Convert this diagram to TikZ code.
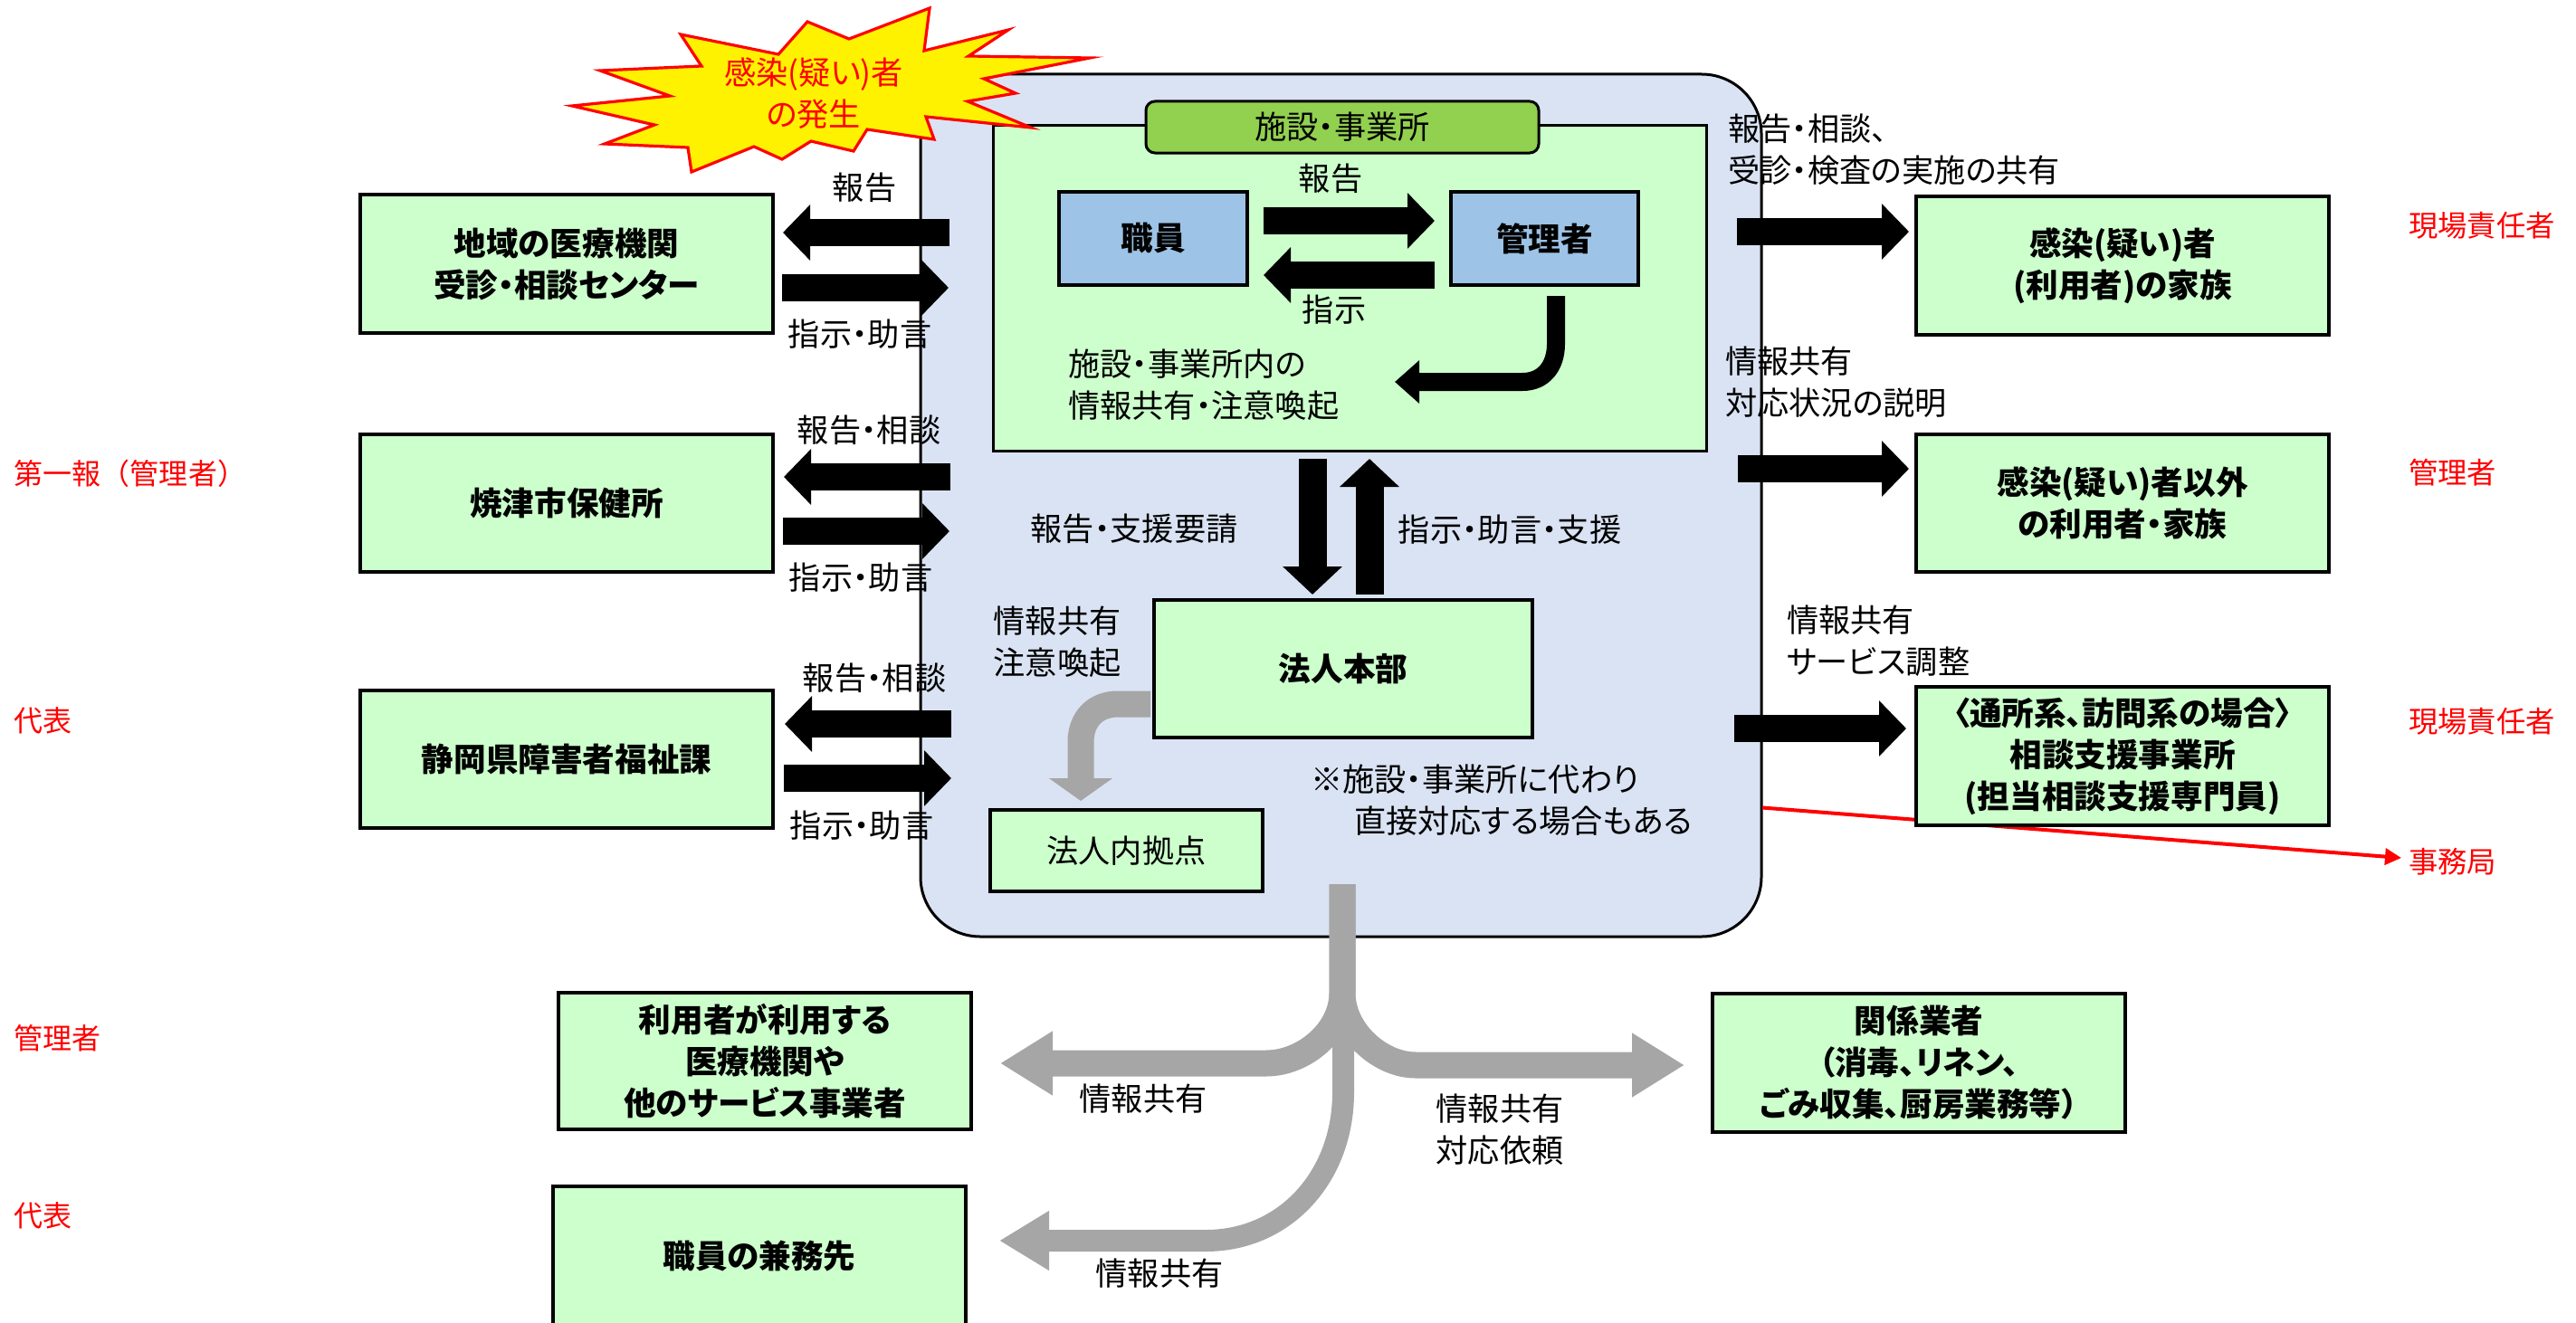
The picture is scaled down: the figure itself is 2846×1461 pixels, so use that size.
\documentclass[tikz,border=0pt]{standalone}
\usepackage{fontspec}
\usetikzlibrary{arrows.meta,calc}
\setmainfont{Noto Sans CJK JP}[RawFeature=+palt]
\newfontfamily\fullcjk{Noto Sans CJK JP}
\definecolor{boxgreen}{HTML}{CCFFCC}
\definecolor{boxblue}{HTML}{9DC3E6}
\definecolor{tabgreen}{HTML}{92D050}
\definecolor{corpblue}{HTML}{DAE3F3}
\definecolor{flowgray}{HTML}{A6A6A6}
\newcommand{\fs}[1]{\fontsize{#1}{23}\selectfont}
% \pxbox[style]{name}{x1}{y1}{x2}{y2}{text}
\newcommand{\pxbox}[6][]{%
  \pgfmathsetmacro{\cxx}{(#3+#5)/2}%
  \pgfmathsetmacro{\cyy}{(#4+#6)/2}%
  \pgfmathsetmacro{\wdd}{(#5-#3)*0.5}%
  \pgfmathsetmacro{\htt}{(#6-#4)*0.5}%
  \node[minimum width=\wdd pt,minimum height=\htt pt,#1] (#2) at (\cxx,\cyy)}
\tikzset{
  greenbox/.style={draw=black,fill=boxgreen,line width=1.7pt,inner sep=0pt,outer sep=0pt,align=center,font=\fs{17.8}\bfseries},
  bluebox/.style={draw=black,fill=boxblue,line width=1.7pt,inner sep=0pt,outer sep=0pt,align=center,font=\fs{17.8}\bfseries},
  lbl/.style={inner sep=0pt,outer sep=0pt,align=center,font=\fs{17.6}},
  lblw/.style={inner sep=0pt,outer sep=0pt,align=left,anchor=west,font=\fs{17.6}},
  redw/.style={inner sep=0pt,outer sep=0pt,anchor=west,text=red,font=\fs{16.2}},
  redside/.style={inner sep=0pt,outer sep=0pt,anchor=west,text=red,font=\fs{16}\fullcjk},
  blk/.style={draw=black,line width=15pt,-{Triangle[length=15pt,width=30pt]}},
  blkv/.style={draw=black,line width=15.5pt,-{Triangle[length=15.5pt,width=32pt]}},
  blkc/.style={draw=black,line width=10pt,-{Triangle[length=13.5pt,width=23pt]}},
  gry/.style={draw=flowgray,line width=14.5pt,-{Triangle[length=29pt,width=33.5pt]}},
  gryb/.style={draw=flowgray,line width=14.5pt,-{Triangle[length=12.5pt,width=34.5pt]}},
  gryt/.style={draw=flowgray,line width=12pt,-{Triangle[length=27.5pt,width=31pt]}},
  redarrow/.style={draw=red,line width=2pt,-{Triangle[length=9pt,width=9pt]}},
  burststyle/.style={draw=red,fill=yellow,line width=1.6pt,line join=miter,miter limit=25}
}
\begin{document}
\begin{tikzpicture}[x=0.5pt,y=-0.5pt]
\useasboundingbox (0,0) rectangle (2846,1461);
\clip (0,0) rectangle (2846,1461);
% large rounded panel
\pxbox[draw=black,fill=corpblue,line width=1.5pt,rounded corners=33pt,inner sep=0pt,outer sep=0pt]{corp}{1017}{82}{1946}{1035}{};
% facility panel
\pxbox[draw=black,fill=boxgreen,line width=1.5pt,inner sep=0pt,outer sep=0pt]{fac}{1097}{138}{1885}{498}{};
\pxbox[draw=black,fill=tabgreen,line width=1.5pt,rounded corners=5pt,inner sep=0pt,outer sep=0pt,font=\fs{17.6}]{factab}{1266}{112}{1700}{169}{施設・事業所};
\pxbox[bluebox]{staff}{1170}{212}{1378}{315}{職員};
\pxbox[bluebox]{mgr}{1603}{212}{1810}{315}{管理者};
% starburst
\draw[burststyle] (752,38)--(860,60)--(892,24)--(938,43)--(1027,9)--(1021,56)--(1114,33)--(1070,62)--(1204,64)--(1087,87)--(1122,103)--(1069,112)--(1139,141)--(1023,129)--(1032,154)--(958,143)--(943,167)--(896,156)--(864,176)--(833,162)--(764,190)--(760,163)--(668,159)--(723,138)--(632,117)--(740,106)--(663,78)--(775,73)--cycle;
\node[lbl,text=red] (burst) at (899,103) {感染(疑い)者\\の発生};
% red line behind the third right box
\node[redw] (jimu) at (2661,952) {事務局};
\draw[redarrow] ($(corp.east)+(1,334)$) -- ($(jimu.west)+(-8,-4)$);
% left boxes
\pxbox[greenbox]{med}{398}{215}{854}{368}{地域の医療機関\\受診・相談センター};
\pxbox[greenbox]{hoken}{398}{480}{854}{632}{焼津市保健所};
\pxbox[greenbox]{pref}{398}{763}{854}{915}{静岡県障害者福祉課};
% right boxes
\pxbox[greenbox]{fam}{2117}{217}{2573}{370}{感染(疑い)者\\(利用者)の家族};
\pxbox[greenbox]{others}{2117}{480}{2573}{632}{感染(疑い)者以外\\の利用者・家族};
\pxbox[greenbox]{soudan}{2117}{759}{2573}{912}{〈通所系、訪問系の場合〉\\相談支援事業所\\(担当相談支援専門員)};
% HQ
\pxbox[greenbox]{hq}{1275}{663}{1693}{815}{法人本部};
\pxbox[greenbox,font=\fs{17.6}]{base}{1094}{895}{1395}{985}{法人内拠点};
% bottom boxes
\pxbox[greenbox]{users}{617}{1097}{1073}{1248}{利用者が利用する\\医療機関や\\他のサービス事業者};
\pxbox[greenbox]{vendors}{1892}{1098}{2348}{1251}{関係業者\\（消毒、リネン、\\ごみ収集、厨房業務等）};
\pxbox[greenbox]{other}{611}{1311}{1067}{1465}{職員の兼務先};
% labels
\node[lbl] (l1) at (955,207) {報告};
\node[lbl] (l2) at (950,369) {指示・助言};
\node[lbl] (l3) at (960,475) {報告・相談};
\node[lbl] (l4) at (951,638) {指示・助言};
\node[lbl] (l5) at (966,749) {報告・相談};
\node[lbl] (l6) at (952,912) {指示・助言};
\node[lbl] (l7) at (1470,197) {報告};
\node[lbl] (l8) at (1474,342) {指示};
\node[lblw] (l9) at (1180,425.5) {施設・事業所内の\\情報共有・注意喚起};
\node[lbl] (l10) at (1253,584) {報告・支援要請};
\node[lbl] (l11) at (1668,585) {指示・助言・支援};
\node[lbl] (l12) at (1168,709) {情報共有\\注意喚起};
\node[lblw] (l13) at (1448,884) {※施設・事業所に代わり\\\hspace*{24pt}直接対応する場合もある};
\node[lblw] (l14) at (1909,165.5) {報告・相談、\\受診・検査の実施の共有};
\node[lblw] (l15) at (1906,422.5) {情報共有\\対応状況の説明};
\node[lblw] (l16) at (1974,708.5) {情報共有\\サービス調整};
\node[lbl] (l17) at (1263,1214) {情報共有};
\node[lbl] (l18) at (1657,1248.5) {情報共有\\対応依頼};
\node[lbl] (l19) at (1281,1407) {情報共有};
% red side notes
\node[redw] (r1) at (2661,249) {現場責任者};
\node[redw] (r2) at (2661,522) {管理者};
\node[redw] (r3) at (2661,797) {現場責任者};
\node[redside] (s1) at (16,523) {第一報（管理者）};
\node[redside] (s2) at (16,796) {代表};
\node[redside] (s3) at (16,1147) {管理者};
\node[redside] (s4) at (16,1343) {代表};
% block arrows, left column
\draw[blk] ($(med.east)+(195,-34.5)$) -- ($(med.east)+(11,-34.5)$);
\draw[blk] ($(med.east)+(10,26.5)$) -- ($(med.east)+(194,26.5)$);
\draw[blk] ($(hoken.east)+(196,-29)$) -- ($(hoken.east)+(12,-29)$);
\draw[blk] ($(hoken.east)+(11,31)$) -- ($(hoken.east)+(195,31)$);
\draw[blk] ($(pref.east)+(197,-39)$) -- ($(pref.east)+(13,-39)$);
\draw[blk] ($(pref.east)+(12,21)$) -- ($(pref.east)+(197,21)$);
% block arrows, right column
\draw[blk] ($(fam.west)+(-198,-37.5)$) -- ($(fam.west)+(-8,-37.5)$);
\draw[blk] ($(others.west)+(-197,-38)$) -- ($(others.west)+(-8,-38)$);
\draw[blk] ($(soudan.west)+(-201,-30.5)$) -- ($(soudan.west)+(-11,-30.5)$);
% inside facility
\draw[blk] ($(staff.east)+(18,-19.5)$) -- ($(mgr.west)+(-18,-19.5)$);
\draw[blk] ($(mgr.west)+(-18,40.5)$) -- ($(staff.east)+(18,40.5)$);
\draw[blkc] ($(mgr.south)+(12.5,12)$) -- (1719,380) .. controls (1719,405) and (1705,422) .. (1682,422) -- (1541,422);
% HQ link
\draw[blkv] ($(fac.south)+(-41,9)$) -- ($(hq.north)+(-34,-6)$);
\draw[blkv] ($(hq.north)+(29,-6)$) -- ($(fac.south)+(22,9)$);
% grey arrows
\draw[gryb] ($(hq.west)+(-4,39)$) -- (1235,778) .. controls (1210,778) and (1194,795) .. (1194,820) -- ($(base.north)+(-50.5,-10)$);
\draw[gry] ($(corp.south)+(1.5,-58)$) -- (1483,1097) .. controls (1483,1140) and (1440,1175) .. (1399,1175) -- ($(users.east)+(32,2.5)$);
\draw[gry] ($(corp.south)+(1.5,-58)$) -- (1483,1097) .. controls (1483,1140) and (1525,1177) .. (1564,1177) -- ($(vendors.west)+(-31,2.5)$);
\draw[gryt] (1484,1097) -- (1484,1207) .. controls (1484,1300) and (1420,1371) .. (1332,1371) -- ($(other.east)+(37,-17)$);
\end{tikzpicture}
\end{document}
